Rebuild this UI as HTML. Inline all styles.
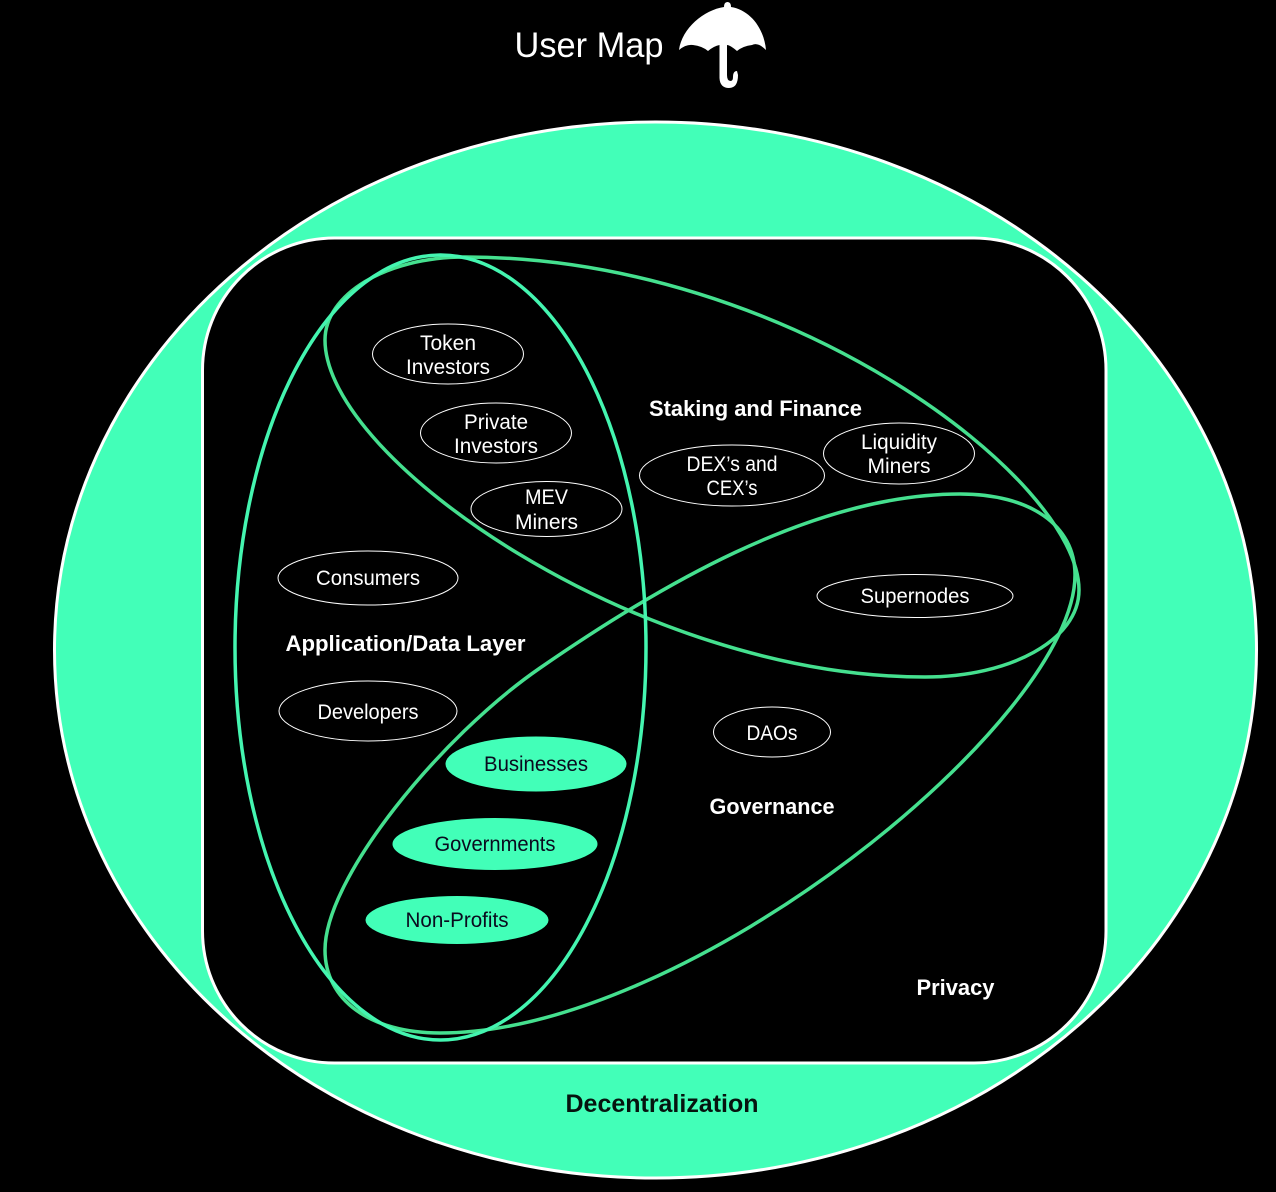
<!DOCTYPE html>
<html><head><meta charset="utf-8"><style>
html,body{margin:0;padding:0;background:#000}
svg{display:block}
text{font-family:"Liberation Sans",sans-serif;text-anchor:middle;fill:#fff;font-size:21px}
.b{font-weight:bold;font-size:22px}
.d{fill:#0a0a1e;font-size:21px}
</style></head><body>
<svg width="1276" height="1192" viewBox="0 0 1276 1192" xmlns="http://www.w3.org/2000/svg">
<rect width="1276" height="1192" fill="#000"/>
<ellipse cx="655.5" cy="650" rx="601" ry="528" fill="#42ffb8" stroke="#fff" stroke-width="3"/>
<rect x="202.500" y="238" width="903.500" height="825" rx="132" ry="132" fill="#000" stroke="#fff" stroke-width="3"/>
<path d="M325 340 C325 295 385 257 465 257 C790 257 1079 480 1079 590 C1079 640 1010 677 925 677 C640 677 325 460 325 340 Z" fill="none" stroke="#45e08f" stroke-width="3.5"/>
<path d="M325 950 C325 878 440 737 540 668 C650 592 810 494 960 494 C1030 494 1075 525 1075 575 C1075 720 690 1033 440 1033 C370 1033 325 1000 325 950 Z" fill="none" stroke="#45e08f" stroke-width="3.5"/>
<ellipse cx="440.5" cy="647.5" rx="205.5" ry="392.5" fill="none" stroke="#44f5b0" stroke-width="3.5"/>

<g fill="none" stroke="#fff" stroke-width="1">
<ellipse cx="448" cy="354" rx="75.5" ry="30"/>
<ellipse cx="496" cy="433" rx="75.5" ry="30"/>
<ellipse cx="546.5" cy="509" rx="75.5" ry="27.5"/>
<ellipse cx="732" cy="475.5" rx="92.5" ry="30.5"/>
<ellipse cx="899" cy="453.5" rx="75.5" ry="30.5"/>
<ellipse cx="368" cy="578" rx="90" ry="27"/>
<ellipse cx="368" cy="711" rx="89" ry="30"/>
<ellipse cx="915" cy="596" rx="98" ry="21.5"/>
<ellipse cx="772" cy="732" rx="58.5" ry="25"/>
</g>
<g fill="#42ffb8">
<ellipse cx="536" cy="764" rx="90.5" ry="27.5"/>
<ellipse cx="495" cy="844" rx="102.5" ry="26"/>
<ellipse cx="457" cy="920" rx="91.5" ry="24"/>
</g>

<text x="589" y="57" style="font-size:35px" textLength="149" lengthAdjust="spacingAndGlyphs">User Map</text>
<path fill="#fff" d="M724 7 Q724 2 727.5 2 Q731 2 731 7 C750 10 764 28 766 50 Q758 42 752 45 Q743 46 737 51 Q730 45 727 45 L727 75 Q727 81 730.5 81 Q733 81 733 77 Q733 71 737 71 L738 75 Q738 88 729 88 Q720 88 719.500 78 L719.500 45 Q714 46 708 51 Q702 46 693 45 Q686 44 679 50 C682 28 704 10 724 7 Z"/>

<text x="448" y="350" textLength="56" lengthAdjust="spacingAndGlyphs">Token</text>
<text x="448" y="374" textLength="84" lengthAdjust="spacingAndGlyphs">Investors</text>
<text x="496" y="429" textLength="64" lengthAdjust="spacingAndGlyphs">Private</text>
<text x="496" y="453" textLength="84" lengthAdjust="spacingAndGlyphs">Investors</text>
<text x="546.500" y="504" textLength="43" lengthAdjust="spacingAndGlyphs">MEV</text>
<text x="546.500" y="529" textLength="63" lengthAdjust="spacingAndGlyphs">Miners</text>
<text x="732" y="471" textLength="91" lengthAdjust="spacingAndGlyphs">DEX’s and</text>
<text x="732" y="495" textLength="51" lengthAdjust="spacingAndGlyphs">CEX’s</text>
<text x="899" y="449" textLength="76" lengthAdjust="spacingAndGlyphs">Liquidity</text>
<text x="899" y="473" textLength="63" lengthAdjust="spacingAndGlyphs">Miners</text>
<text x="368" y="585" textLength="104" lengthAdjust="spacingAndGlyphs">Consumers</text>
<text x="368" y="719" textLength="101" lengthAdjust="spacingAndGlyphs">Developers</text>
<text x="915" y="603" textLength="109" lengthAdjust="spacingAndGlyphs">Supernodes</text>
<text x="772" y="740" textLength="51" lengthAdjust="spacingAndGlyphs">DAOs</text>
<text class="d" x="536" y="771" textLength="104" lengthAdjust="spacingAndGlyphs">Businesses</text>
<text class="d" x="495" y="851" textLength="121" lengthAdjust="spacingAndGlyphs">Governments</text>
<text class="d" x="457" y="927" textLength="103" lengthAdjust="spacingAndGlyphs">Non-Profits</text>

<text class="b" x="755.500" y="416" textLength="213" lengthAdjust="spacingAndGlyphs">Staking and Finance</text>
<text class="b" x="405.500" y="651" textLength="240" lengthAdjust="spacingAndGlyphs">Application/Data Layer</text>
<text class="b" x="772" y="814" textLength="125" lengthAdjust="spacingAndGlyphs">Governance</text>
<text class="b" x="955.500" y="995" textLength="78" lengthAdjust="spacingAndGlyphs">Privacy</text>
<text class="b" x="662" y="1112" style="font-size:25px;fill:#06140f" textLength="193" lengthAdjust="spacingAndGlyphs">Decentralization</text>
</svg>
</body></html>
